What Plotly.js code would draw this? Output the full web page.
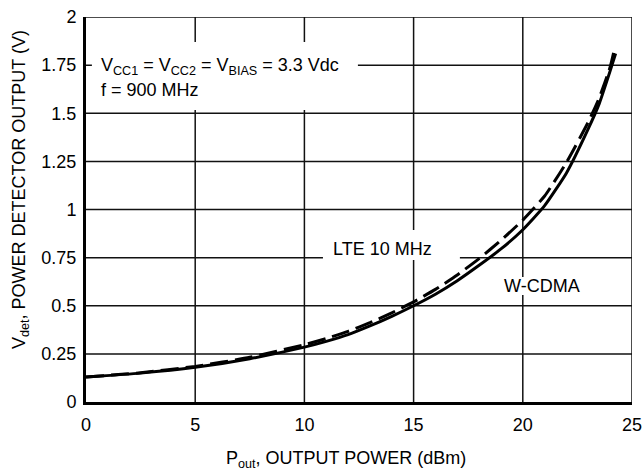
<!DOCTYPE html>
<html>
<head>
<meta charset="utf-8">
<script src="https://cdn.plot.ly/plotly-3.0.1.min.js"></script>
<style>html,body{margin:0;padding:0;background:#fff;}#chart{width:644px;height:471px;}</style>
</head>
<body>
<div id="chart"></div>
<script>
// W-CDMA (solid)
const wcdmaPout = [0, 2.5, 5, 7.5, 10, 11, 12, 13, 14, 15, 16, 17, 18, 19, 20, 21, 22, 23, 23.5, 24, 24.25];
const wcdmaVdet = [0.13, 0.15, 0.18, 0.225, 0.285, 0.315, 0.35, 0.395, 0.445, 0.50, 0.56, 0.63, 0.71, 0.795, 0.895, 1.02, 1.19, 1.42, 1.55, 1.72, 1.81];
// LTE 10 MHz (dashed)
const ltePout = [0, 2.5, 5, 7.5, 10, 11, 12, 13, 14, 15, 16, 17, 18, 19, 20, 21, 22, 23, 23.5, 24, 24.22];
const lteVdet = [0.13, 0.152, 0.185, 0.232, 0.298, 0.33, 0.367, 0.412, 0.463, 0.52, 0.585, 0.66, 0.745, 0.84, 0.945, 1.07, 1.245, 1.455, 1.58, 1.74, 1.845];

const xTicks = [0, 5, 10, 15, 20, 25];
const yTicks = [0, 0.25, 0.5, 0.75, 1, 1.25, 1.5, 1.75, 2];
const yTickText = ['0', '0.25', '0.5', '0.75', '1', '1.25', '1.5', '1.75', '2'];

const FONT = '"Liberation Sans", Arial, sans-serif';
const FS = 18;

const traces = [
  {x: wcdmaPout, y: wcdmaVdet, mode: 'lines', line: {color: '#000', width: 3, shape: 'spline', smoothing: 0.5}, hoverinfo: 'skip', name: 'W-CDMA'},
  {x: ltePout, y: lteVdet, mode: 'lines', line: {color: '#000', width: 3, dash: '18px,7px', shape: 'spline', smoothing: 0.5}, hoverinfo: 'skip', name: 'LTE 10 MHz'}
];

const W = 546, H = 385;
const gridShapes = [];
xTicks.slice(1).forEach(v => gridShapes.push({type: 'line', xref: 'x', yref: 'paper', x0: v, x1: v, y0: 0, y1: 1, line: {color: '#111', width: 1.5}, layer: 'below'}));
yTicks.slice(1).forEach(v => gridShapes.push({type: 'line', xref: 'paper', yref: 'y', x0: 0, x1: 1, y0: v, y1: v, line: {color: '#111', width: 1.5}, layer: 'below'}));

const layout = {
  width: 644, height: 471,
  margin: {l: 86, r: 12, t: 17, b: 69, pad: 0},
  paper_bgcolor: '#fff', plot_bgcolor: '#fff',
  showlegend: false,
  font: {family: FONT, size: FS, color: '#000'},
  xaxis: {
    range: [0, 25], tickvals: xTicks, ticktext: xTicks.map(String),
    showgrid: false,
    showline: true, linecolor: '#000', linewidth: 3,
    ticks: '', ticklabelstandoff: 4, zeroline: false, fixedrange: true,
    tickfont: {family: FONT, size: FS, color: '#000'}
  },
  yaxis: {
    range: [0, 2], tickvals: yTicks, ticktext: yTickText,
    showgrid: false,
    showline: true, linecolor: '#000', linewidth: 3,
    ticks: '', ticklabelstandoff: 3, zeroline: false, fixedrange: true,
    tickfont: {family: FONT, size: FS, color: '#000'}
  },
  shapes: gridShapes.concat([
    {type: 'rect', xref: 'x', yref: 'y', x0: 0.27, x1: 12.45, y0: 1.517, y1: 1.87, fillcolor: '#fff', line: {width: 0}, layer: 'above'},
    {type: 'rect', xref: 'x', yref: 'y', x0: 10.85, x1: 17.12, y0: 0.738, y1: 0.894, fillcolor: '#fff', line: {width: 0}, layer: 'above'},
    {type: 'rect', xref: 'x', yref: 'y', x0: 19.1, x1: 22.6, y0: 0.556, y1: 0.65, fillcolor: '#fff', line: {width: 0}, layer: 'above'}
  ]),
  annotations: [
    {xref: 'x', yref: 'y', x: 0.6, y: (402 - 66) / 192.5, xanchor: 'left', yanchor: 'middle', showarrow: false,
     text: 'V<sub>CC1</sub> = V<sub>CC2</sub> = V<sub>BIAS</sub> = 3.3 Vdc', font: {family: FONT, size: FS, color: '#000'}},
    {xref: 'x', yref: 'y', x: 0.6, y: (402 - 90) / 192.5, xanchor: 'left', yanchor: 'middle', showarrow: false,
     text: 'f = 900 MHz', font: {family: FONT, size: FS, color: '#000'}},
    {xref: 'x', yref: 'y', x: 13.58, y: 0.795, xanchor: 'center', yanchor: 'middle', showarrow: false,
     text: 'LTE 10 MHz', font: {family: FONT, size: FS, color: '#000'}},
    {xref: 'x', yref: 'y', x: 20.88, y: 0.603, xanchor: 'center', yanchor: 'middle', showarrow: false,
     text: 'W-CDMA', font: {family: FONT, size: FS, color: '#000'}},
    {xref: 'paper', yref: 'paper', x: (346 - 86) / W, y: (402 - 459) / H, xanchor: 'center', yanchor: 'middle', showarrow: false,
     text: 'P<sub>out</sub>, OUTPUT POWER (dBm)', font: {family: FONT, size: FS, color: '#000'}},
    {xref: 'paper', yref: 'paper', x: (20 - 86) / W, y: (402 - 190) / H, xanchor: 'center', yanchor: 'middle', showarrow: false, textangle: -90,
     text: 'V<sub>det</sub>, POWER DETECTOR OUTPUT (V)', font: {family: FONT, size: FS, color: '#000'}}
  ]
};

Plotly.newPlot('chart', traces, layout, {staticPlot: true, displayModeBar: false});
</script>
</body>
</html>
